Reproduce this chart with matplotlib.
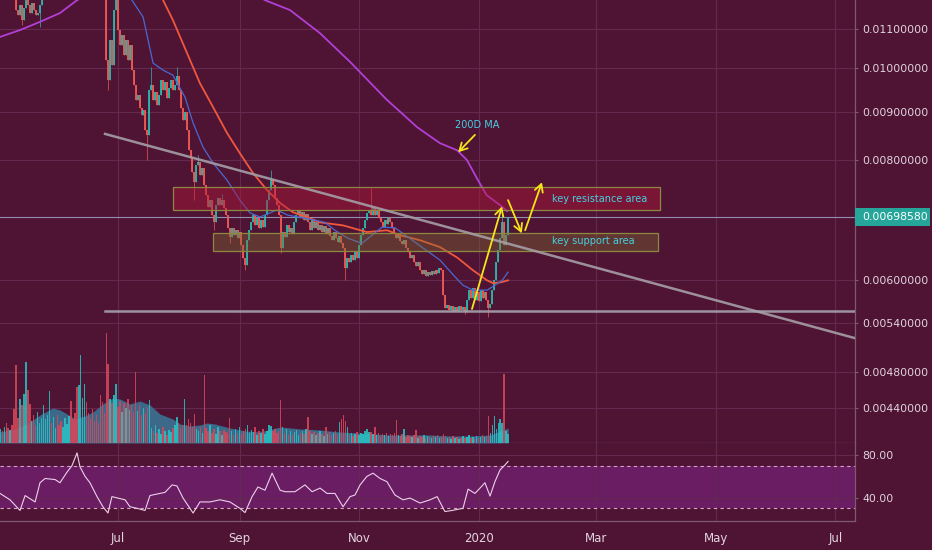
import numpy as np
import pandas as pd
import matplotlib
matplotlib.use("Agg")
import matplotlib.pyplot as plt
import matplotlib.dates as mdates
from matplotlib.patches import Rectangle
from matplotlib.ticker import FixedLocator, FuncFormatter, NullLocator, NullFormatter
from matplotlib.transforms import IdentityTransform

# ---------------------------------------------------------------- data
# prices are in units of 1e-5 BTC, daily candles from 2019-05-01
START = "2019-05-01"
SCALE = 1e-5
closes = (
    # May 1-9 (above the visible range)
    [1215, 1240, 1225, 1250, 1230, 1210, 1235, 1220, 1195]
    # May 10-25
    + [1150, 1137, 1164, 1123, 1155, 1178, 1164, 1142, 1170, 1150, 1137, 1142, 1164, 1185, 1210, 1235]
    # May 26 - Jun 24 (above the visible range)
    + [1260, 1300, 1280, 1320, 1350, 1330, 1300, 1280, 1310, 1340, 1380, 1400, 1370, 1350, 1330,
       1300, 1320, 1360, 1390, 1420, 1400, 1380, 1350, 1330, 1300, 1280, 1260, 1240, 1220, 1200]
    # Jun 25 - Jul 1
    + [1020, 971, 1070, 1007, 1150, 1190, 1096]
    # Jul 2-17
    + [1057, 1083, 1032, 1070, 1020, 1057, 995, 960, 926, 937, 908, 893, 904, 861, 851, 948]
    # Jul 18-31
    + [960, 926, 944, 915, 937, 971, 948, 966, 930, 953, 971, 948, 960, 981]
    # Aug 1-14
    + [948, 908, 882, 900, 861, 820, 805, 778, 759, 791, 797, 772, 786, 754]
    # Aug 15 - Sep 1
    + [736, 715, 727, 701, 690, 718, 731, 718, 727, 713, 701, 680, 665, 680, 668, 676, 663, 673]
    # Sep 2-19
    + [652, 632, 621, 660, 676, 690, 701, 685, 696, 680, 693, 682, 701, 727, 745, 763, 754, 731]
    # Sep 20 - Oct 9
    + [718, 701, 647, 673, 665, 685, 673, 680, 670, 690, 701, 710, 696, 706, 693, 703, 690, 676, 693, 680]
    # Oct 10 - Nov 1
    + [690, 676, 685, 673, 683, 670, 680, 666, 660, 673, 663, 657, 666, 655, 647, 617, 632, 626,
       637, 629, 641, 632, 652]
    # Nov 2-18
    + [668, 680, 693, 704, 710, 701, 713, 701, 710, 696, 690, 682, 693, 687, 698, 690, 680]
    # Nov 19 - Dec 14
    + [671, 663, 670, 658, 654, 660, 647, 641, 632, 637, 626, 620, 626, 614, 608, 614, 605, 611,
       607, 613, 608, 614, 610, 617, 614, 578]
    # Dec 15 - Jan 16
    + [560, 564, 557, 563, 556, 562, 556, 563, 557, 562, 555, 571, 585, 574, 588, 571, 582, 570,
       585, 574, 582, 571, 560, 566, 585, 599, 626, 644, 663, 690, 652, 668, 698.58]
)
wick_high = {"2019-07-18": 1002, "2019-07-31": 1002, "2019-08-11": 810, "2019-08-23": 738,
             "2019-09-17": 781, "2019-11-07": 749, "2020-01-13": 710}
wick_low = {"2019-05-13": 1110, "2019-05-22": 1105, "2019-06-26": 948, "2019-07-16": 801,
            "2019-08-09": 727, "2019-08-19": 676, "2019-08-27": 655, "2019-09-04": 614,
            "2019-09-22": 640, "2019-10-25": 599, "2019-12-25": 552, "2020-01-06": 548}

volume = (
    [19, 14, 12, 16, 20, 15, 13, 18, 34]
    + [78, 25, 44, 38, 49, 81, 53, 39, 22, 28, 18, 31, 20, 25, 38, 24]
    + [28, 52, 20, 26, 15, 28, 18, 22, 16, 25, 19, 27, 42, 24, 30, 56, 58, 88, 45, 59, 41,
       30, 25, 34, 22, 28, 20, 48, 41, 30]
    + [110, 79, 44, 40, 48, 59, 36]
    + [42, 31, 40, 35, 44, 33, 38, 31, 71, 32, 38, 28, 35, 30, 36, 43]
    + [15, 12, 18, 10, 14, 9, 16, 12, 8, 13, 11, 15, 18, 26]
    + [20, 15, 18, 44, 18, 24, 20, 16, 29, 14, 12, 16, 10, 68]
    + [15, 12, 18, 10, 14, 9, 16, 12, 8, 13, 11, 10, 25, 12, 8, 14, 10, 16]
    + [9, 12, 14, 18, 10, 13, 11, 16, 8, 12, 10, 14, 9, 12, 18, 17, 12, 14]
    + [10, 12, 43, 16, 10, 14, 8, 12, 9, 11, 13, 8, 10, 12, 9, 14, 26, 12, 9, 11]
    + [8, 10, 12, 9, 7, 16, 9, 11, 8, 10, 12, 9, 21, 24, 28, 22, 16, 8, 10, 7, 9, 11, 8]
    + [10, 9, 12, 14, 11, 11, 9, 16, 8, 10, 7, 9, 8, 10, 7, 9, 8]
    + [10, 23, 8, 7, 9, 14, 6, 8, 7, 6, 8, 13, 5, 7, 6, 8, 5, 7, 6, 5, 7, 6, 8, 5, 6, 9]
    + [7, 5, 6, 4, 7, 5, 6, 4, 5, 7, 5, 6, 8, 5, 6, 4, 7, 5, 6, 8, 6, 7, 27, 10, 18, 27,
       14, 20, 24, 20, 69, 12, 9]
)

# overlays, x given as days since 2019-07-01
vol_ma_day = [-60.2, -52.6, -46.4, -39.8, -33.2, -29.6, -26, -21.9, -16.8, -12.8, -7.7, -2.6, 1, 6.1,
              11.2, 16.3, 21.4, 28, 31.6, 36.7, 41.8, 45.4, 49.5, 57, 65, 72, 83, 93, 103, 113, 123,
              131, 139, 149, 159, 169, 180, 190, 199]
vol_ma = [11, 14, 19, 28, 35, 33, 29, 24, 27, 31, 39, 45, 44, 39, 42, 38, 29, 24, 19, 17, 18, 20, 19,
          15, 12, 11, 16, 14, 13, 11, 10, 9, 8, 8, 8, 7, 7, 8, 15]

ma20_day = [0, 3.6, 7.1, 12.8, 17.9, 23, 28, 34.2, 38.3, 43.4, 48.5, 55.6, 62.2, 67.3, 72.4, 77.6, 81,
            86.7, 95.4, 105.6, 110.7, 117.3, 124.5, 127.6, 134.7, 141.3, 148, 155, 164.3, 171, 176,
            181, 188.3, 192.3, 196, 199]
ma20 = [1270, 1240, 1178, 1131, 1012, 995, 983, 932, 876, 826, 795, 763, 727, 705, 698, 705, 710,
        701, 696, 689, 676, 663, 655, 663, 681, 680, 665, 649, 629, 607, 592, 585, 585, 592, 599, 611]

ma50_day = [21.4, 23, 28, 35.2, 41.8, 48.5, 55.6, 62.2, 68.9, 76, 82.7, 89.3, 96.4, 103, 114.8, 127,
            137.2, 143.9, 154, 164.3, 173, 181, 188.3, 191.3, 195, 199]
ma50 = [1240, 1178, 1123, 1037, 964, 910, 855, 814, 776, 745, 722, 706, 698, 689, 684, 673, 676, 668,
        660, 649, 633, 614, 599, 595, 596, 599]

ma200_day = [-60.2, -50, -39.8, -29.6, -20.9, 0, 30, 55, 75, 87.8, 103, 118.4, 137.2, 143.9, 152.6,
             164.3, 173, 178, 183, 188, 195, 198.5]
ma200 = [1078, 1096, 1118, 1142, 1178, 1240, 1270, 1245, 1178, 1150, 1088, 1015, 926, 900, 867,
         834, 820, 801, 767, 736, 718, 708]

rsi_day = [-60.2, -55.1, -50, -47.4, -42.3, -39.8, -37.2, -32.1, -29.6, -26, -23.5, -20.9, -19.4,
           -16.8, -14.3, -10.7, -7.7, -5.1, -3.1, 0, 3.6, 6.1, 9.7, 13.8, 16.3, 21.4, 24, 27.6, 30.1,
           33.2, 38.3, 41.8, 46.9, 52, 57.1, 62.2, 64.8, 68.4, 71.4, 75, 78.6, 82.7, 85.2, 90.3, 95.4,
           99, 103.1, 106.6, 110.7, 114.8, 118.4, 120.9, 123.5, 127, 130.1, 133.7, 137.2, 141.3,
           145.4, 149, 154.1, 159.2, 162.8, 166.8, 170.4, 176, 178.6, 182.1, 184.7, 187.2, 189.8,
           192.3, 194.9, 197.4, 199]
rsi = [44, 38, 28, 42, 36, 54, 58, 57, 54, 64, 70, 82, 69, 60, 54, 41, 31.5, 25.6, 41, 39.6, 38, 31.5,
       30, 28, 42, 44, 45, 52, 51, 39.6, 25.6, 36, 36, 38, 36, 30, 26, 41, 50, 47, 63, 47, 45.6, 45.6,
       52, 45.6, 49, 44, 44, 31.5, 41, 42.5, 52, 60, 63, 58, 55, 42.5, 38, 39.6, 35, 38, 41, 27, 28,
       30, 48, 44, 49, 54, 41.5, 55, 66, 70.6, 74]

trend_day, trend_px = [-6.6, 376], [853, 521]
support_day, support_px = [-6.6, 376], 556
resist_box = (28, 276.5, 710, 750)    # day0, day1, low, high
support_box = (48.5, 275.5, 643, 671)

price_ticks = [1100, 1000, 900, 800, 600, 540, 480, 440]

# ---------------------------------------------------------------- style
BG = "#4f1434"
GRID = "#64294f"
BORDER = "#7b5a72"
TXT = "#e2d4e0"
UP, DOWN = "#2bb8aa", "#f05a55"
VUP, VDOWN = "#27c4c4", "#d9485a"
CYAN = "#45d0e0"
YEL = "#f5e61a"

W, H = 932, 550
PANE_R, MAIN_BOT, RSI_BOT = 855, 443, 520.7

fig = plt.figure(figsize=(W / 100, H / 100), dpi=100, facecolor=BG)
ax = fig.add_axes([0, 1 - MAIN_BOT / H, PANE_R / W, MAIN_BOT / H], facecolor=BG)
ax_rsi = fig.add_axes([0, 1 - RSI_BOT / H, PANE_R / W, (RSI_BOT - MAIN_BOT) / H],
                      facecolor=BG, sharex=ax)
ax_vol = ax.twinx()
ax.yaxis.tick_right()

d0 = mdates.date2num(pd.Timestamp("2019-07-01"))
dates = pd.date_range(START, periods=len(closes), freq="D")
x = mdates.date2num(dates)
c = np.array(closes, dtype=float) * SCALE
o = np.r_[c[0], c[:-1]]
hi = np.maximum(o, c)
lo = np.minimum(o, c)
for k, v in wick_high.items():
    hi[dates.get_loc(pd.Timestamp(k))] = v * SCALE
for k, v in wick_low.items():
    lo[dates.get_loc(pd.Timestamp(k))] = v * SCALE
up = c >= o
col = np.where(up, UP, DOWN)

# price pane
ax.set_yscale("log")
ax.set_xlim(d0 - 60.2, d0 + 376)
ax.set_ylim(0.004045, 0.011785)

ax.vlines(x, lo, hi, colors=col, lw=0.5, zorder=3)
ax.vlines(x, np.minimum(o, c), np.maximum(o, c), colors=col, lw=1.3, zorder=3)

ax.plot(d0 + np.array(ma200_day), np.array(ma200) * SCALE, color="#b23fd6", lw=1.3, zorder=4)
ax.plot(d0 + np.array(ma50_day), np.array(ma50) * SCALE, color="#f0573c", lw=1.3, zorder=4)
ax.plot(d0 + np.array(ma20_day), np.array(ma20) * SCALE, color="#4a68d2", lw=0.9, zorder=4)

ax.plot(d0 + np.array(trend_day), np.array(trend_px) * SCALE, color="#a59ea6", lw=1.8,
        alpha=0.9, zorder=5)
ax.plot(d0 + np.array(support_day), [support_px * SCALE] * 2, color="#a6a2ad", lw=1.8,
        alpha=0.9, zorder=5)
ax.axhline(c[-1], color="#968eb2", lw=0.8, zorder=2)

for (a, b, l, h), fc, al in [(resist_box, "#b0183a", 0.45), (support_box, "#807030", 0.38)]:
    ax.add_patch(Rectangle((d0 + a, l * SCALE), b - a, (h - l) * SCALE, facecolor=fc,
                           alpha=al, edgecolor="none", zorder=4))
    ax.add_patch(Rectangle((d0 + a, l * SCALE), b - a, (h - l) * SCALE, facecolor="none",
                           edgecolor="#8c8840", lw=0.9, zorder=4))

ax.text(d0 + 221.4, 729 * SCALE, "key resistance area", color=CYAN, fontsize=7, va="center",
        zorder=6)
ax.text(d0 + 221.4, 658 * SCALE, "key support area", color=CYAN, fontsize=7, va="center",
        zorder=6)
ax.text(d0 + 183.2, 871 * SCALE, "200D MA", color=CYAN, fontsize=7, ha="center", va="center",
        zorder=6)

arrows = [((180.6, 559), (195.9, 716)), ((199, 727), (206, 671)),
          ((207.7, 676), (216.3, 759)), ((182.1, 851), (173.5, 816))]
for (xa, ya), (xb, yb) in arrows:
    ax.annotate("", xy=(d0 + xb, yb * SCALE), xytext=(d0 + xa, ya * SCALE),
                arrowprops=dict(arrowstyle="->,head_length=0.55,head_width=0.3", color=YEL,
                                lw=1.3, shrinkA=0, shrinkB=0), zorder=7)

# volume overlay
ax_vol.set_ylim(0, MAIN_BOT)
ax_vol.fill_between(d0 + np.array(vol_ma_day), vol_ma, color="#3b6d8e", lw=0, alpha=0.95,
                    zorder=1)
ax_vol.bar(x, volume, width=0.75, color=np.where(up, VUP, VDOWN), alpha=0.85, lw=0, zorder=2)
ax_vol.set_yticks([])
for s in ax_vol.spines.values():
    s.set_visible(False)

# RSI pane
ax_rsi.set_ylim(18.4, 91.3)
ax_rsi.axhspan(30, 70, color="#6a1d62", lw=0, zorder=0)
for lvl in (70, 30):
    ax_rsi.axhline(lvl, color="#d6a5c8", lw=0.8, ls=(0, (3, 3)), zorder=2)
ax_rsi.plot(d0 + np.array(rsi_day), rsi, color="#ecd0ec", lw=0.8, zorder=3)

# axes, ticks, grid
months = mdates.MonthLocator(bymonth=[1, 3, 5, 7, 9, 11])
ax.xaxis.set_major_locator(months)


def month_label(v, pos=None):
    d = mdates.num2date(v)
    return d.strftime("%Y") if d.month == 1 else d.strftime("%b")


ax_rsi.xaxis.set_major_formatter(FuncFormatter(month_label))
ax.tick_params(axis="x", labelbottom=False, length=0)
ax_rsi.tick_params(axis="x", length=0, pad=8, labelsize=8.5, labelcolor=TXT)

ax.yaxis.set_major_locator(FixedLocator([p * SCALE for p in price_ticks]))
ax.yaxis.set_major_formatter(FuncFormatter(lambda v, pos: f"{v:.8f}"))
ax.yaxis.set_minor_locator(NullLocator())
ax.yaxis.set_minor_formatter(NullFormatter())
ax.tick_params(axis="y", length=2.5, pad=3, color=BORDER, labelsize=7.8, labelcolor=TXT)

ax_rsi.yaxis.tick_right()
ax_rsi.set_yticks([80, 40])
ax_rsi.yaxis.set_major_formatter(FuncFormatter(lambda v, pos: f"{v:.2f}"))
ax_rsi.tick_params(axis="y", length=2.5, pad=3, color=BORDER, labelsize=7.8, labelcolor=TXT)

for a in (ax, ax_rsi):
    a.grid(True, color=GRID, lw=0.8, zorder=0)
    a.set_axisbelow(True)
    for side in ("left", "top"):
        a.spines[side].set_visible(False)
    for side in ("right", "bottom"):
        a.spines[side].set_color(BORDER)
        a.spines[side].set_linewidth(0.9)

# last price tag on the price scale
y_disp = ax.transData.transform((x[-1], c[-1]))[1]
fig.add_artist(Rectangle((PANE_R, y_disp - 9), 75, 18, transform=IdentityTransform(),
                         facecolor="#26a69a", edgecolor="none"))
fig.text(862, y_disp, f"{c[-1]:.8f}", transform=IdentityTransform(), color="white",
         fontsize=7.8, va="center", ha="left")

fig.savefig("out.png", dpi=100, facecolor=BG)
